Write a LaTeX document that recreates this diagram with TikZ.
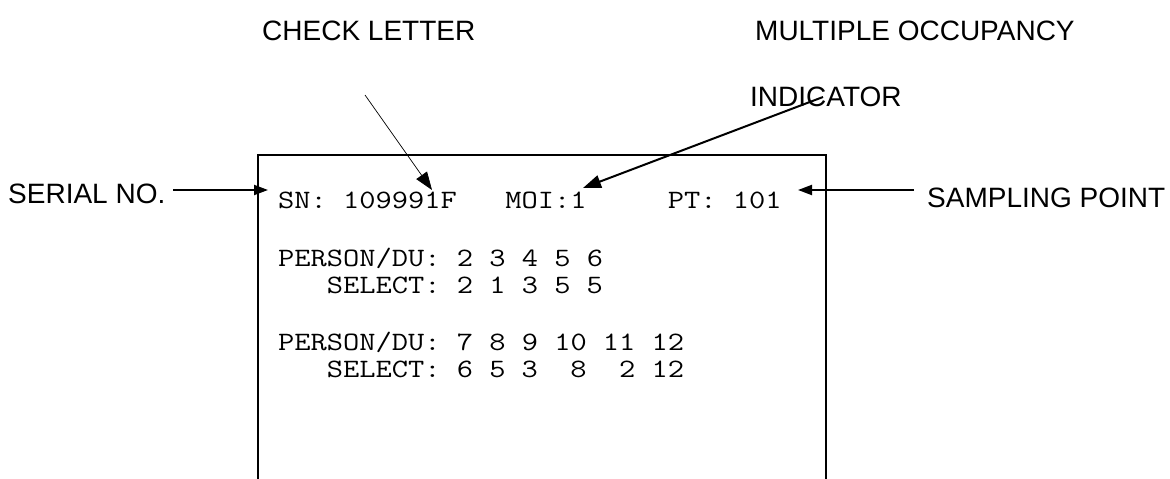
\documentclass[tikz,border=0pt]{standalone}
\usepackage{fontspec}
\usepackage{graphicx}
\setmainfont{Liberation Sans}
\usetikzlibrary{arrows.meta}
% monospaced screen line, widened to the terminal's character pitch
\newcommand\scrline[1]{\scalebox{1.19}[1]{#1}}
\begin{document}
\frenchspacing
\begin{tikzpicture}[x=1pt,y=-1pt,
  label/.style={inner sep=0pt,anchor=base west,font=\fontsize{28}{32}\selectfont\rmfamily},
  screen/.style={inner sep=0pt,anchor=base west,font=\ttfamily\fontsize{26.5}{32}\selectfont},
  frame/.style={line width=2pt},
  pointer/.style={line width=2pt,-{Triangle[length=14pt,width=10pt]}},
  slanted/.style={line width=2pt,-{Triangle[length=18pt,width=13pt]}},
  thinpointer/.style={line width=0.7pt,-{Triangle[length=18pt,width=13pt]}}]
  \useasboundingbox (0,0) rectangle (1170,479);

  % screen frame, open at the bottom
  \draw[frame] (258,479) -- (258,155) -- (826,155) -- (826,479);

  % screen contents
  \node[screen] (l1) at (278,208) {\scrline{SN:~109991F~~~MOI:1~~~~~PT:~101}};
  \node[screen] (l2) at (278,266) {\scrline{PERSON/DU:~2~3~4~5~6}};
  \node[screen] (l3) at (278,293) {\scrline{~~~SELECT:~2~1~3~5~5}};
  \node[screen] (l4) at (278,350) {\scrline{PERSON/DU:~7~8~9~10~11~12}};
  \node[screen] (l5) at (278,377) {\scrline{~~~SELECT:~6~5~3~~8~~2~12}};

  % callout labels
  \node[label] (check) at (262,40) {CHECK LETTER};
  \node[label] (moi1) at (755,40) {MULTIPLE OCCUPANCY};
  \node[label] (moi2) at (750,106) {INDICATOR};
  \node[label] (serial) at (8,203) {SERIAL NO.};
  \node[label] (pt) at (927,207) {SAMPLING POINT};

  % arrow end points
  \coordinate (snS) at (173,190);
  \coordinate (snE) at (268,190);
  \coordinate (ptS) at (914,190);
  \coordinate (ptE) at (798,190);
  \coordinate (ckS) at (365,95);
  \coordinate (ckE) at (432,190);
  \coordinate (moS) at (823,97);
  \coordinate (moE) at (583,188);

  \draw[pointer] (snS) -- (snE);
  \draw[pointer] (ptS) -- (ptE);
  \draw[thinpointer] (ckS) -- (ckE);
  \draw[slanted] (moS) -- (moE);
\end{tikzpicture}
\end{document}
